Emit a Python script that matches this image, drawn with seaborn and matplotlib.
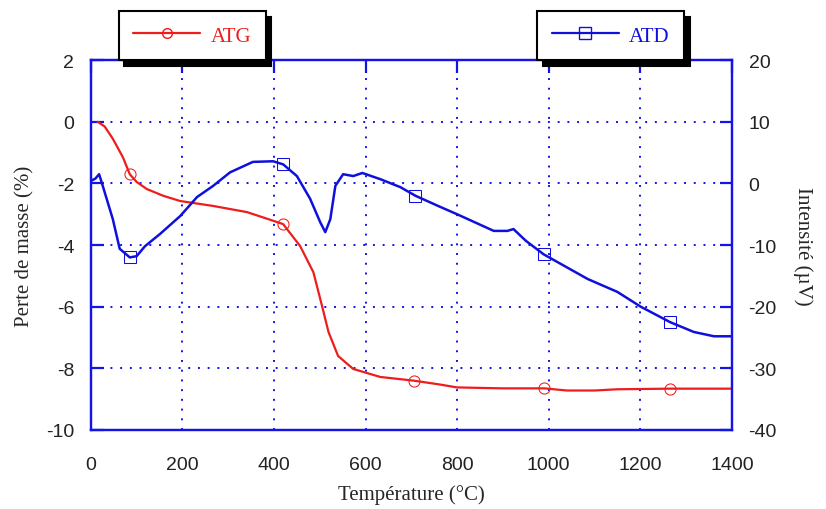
import seaborn as sns
import matplotlib.pyplot as plt
from matplotlib.lines import Line2D
import pandas as pd

# ATG curve (mass loss, left axis)
atg_T = [15, 30, 48, 70, 85, 100, 122, 158, 195, 267, 341, 392, 420, 457, 486, 505,
         519, 540, 573, 632, 705, 760, 800, 900, 990, 1040, 1100, 1150, 1265, 1400]
atg_v = [0.0, -0.15, -0.55, -1.15, -1.7, -1.95, -2.18, -2.4, -2.57, -2.73, -2.93, -3.18,
         -3.32, -4.03, -4.88, -5.98, -6.82, -7.6, -8.02, -8.28, -8.4, -8.52, -8.62, -8.65,
         -8.65, -8.72, -8.72, -8.68, -8.66, -8.66]
atg_marks = [85, 420, 705, 990, 1265]

# ATD curve (intensity, right axis)
atd_T = [0, 10, 18, 26, 48, 63, 85, 100, 118, 151, 195, 232, 267, 304, 354, 398, 420,
         450, 479, 501, 512, 523, 534, 551, 573, 593, 632, 676, 709, 763, 800, 880, 910,
         923, 950, 989, 1085, 1150, 1201, 1265, 1317, 1361, 1400]
atd_v = [0.4, 0.8, 1.5, -0.4, -5.8, -10.6, -12.0, -11.8, -10.2, -8.2, -5.3, -2.2, -0.4,
         1.8, 3.5, 3.6, 3.1, 1.2, -2.5, -6.3, -7.9, -5.8, -0.4, 1.5, 1.2, 1.7, 0.7, -0.6,
         -2.0, -3.8, -5.0, -7.7, -7.7, -7.4, -9.3, -11.5, -15.5, -17.6, -20.0, -22.5,
         -24.1, -24.8, -24.8]
atd_marks = [85, 420, 709, 989, 1265]

atg = pd.DataFrame({"T": atg_T, "v": atg_v})
atd = pd.DataFrame({"T": atd_T, "v": atd_v})

sns.set_style("white")
plt.rcParams["axes.unicode_minus"] = False
blue = "#1414e6"
red = "#ee1c1c"
dblue = "#1010dd"

fig = plt.figure(figsize=(8.26, 5.10), dpi=100)
ax = fig.add_axes([0.110, 0.155, 0.776, 0.725])
ax2 = ax.twinx()

sns.lineplot(data=atg, x="T", y="v", ax=ax, color=red, lw=1.6, marker="o",
             markersize=8, markerfacecolor="none", markeredgecolor=red,
             markevery=[atg_T.index(t) for t in atg_marks], legend=False)
sns.lineplot(data=atd, x="T", y="v", ax=ax2, color=dblue, lw=1.8, marker="s",
             markersize=9, markerfacecolor="none", markeredgecolor=dblue,
             markevery=[atd_T.index(t) for t in atd_marks], legend=False)

ax.set_xlim(0, 1400)
ax.set_ylim(-10, 2)
ax2.set_ylim(-40, 20)
ax.set_xticks(range(0, 1401, 200))
ax.set_yticks(range(-10, 3, 2))
ax2.set_yticks(range(-40, 21, 10))

ax.grid(True, color=blue, linestyle=(0, (1, 4)), lw=1.4)
ax.set_axisbelow(True)

tickfont = "Liberation Sans"
labfont = "Liberation Serif"
for a in (ax, ax2):
    for s in a.spines.values():
        s.set_color(blue)
        s.set_linewidth(1.6)
    a.tick_params(direction="in", length=9, width=1.6, color=blue, labelsize=14,
                  labelcolor="#222222", pad=12)
    for lab in a.get_xticklabels() + a.get_yticklabels():
        lab.set_fontfamily(tickfont)
ax.tick_params(top=True)
ax.tick_params(axis="x", pad=19)

ax.set_xlabel("Température (°C)", fontsize=15, family=labfont, labelpad=8)
ax.set_ylabel("Perte de masse (%)", fontsize=15, family=labfont, labelpad=8)
ax2.set_ylabel("Intensité (µV)", fontsize=15, family=labfont, rotation=-90, labelpad=26)

legends = []
for name, loc_x, col, mk, ms in (("ATG", 0.158, red, "o", 7), ("ATD", 0.811, dblue, "s", 8)):
    h = Line2D([], [], color=col, lw=1.6, marker=mk, markersize=ms,
               markerfacecolor="none", markeredgecolor=col)
    leg = ax2.legend([h], [name], loc="lower center", bbox_to_anchor=(loc_x, 1.0),
                     borderaxespad=0, frameon=True, fancybox=False, edgecolor="black",
                     shadow={"color": "black", "alpha": 1, "ox": 4, "oy": -4},
                     handlelength=3.2, borderpad=0.7, handletextpad=0.5,
                     prop={"family": labfont, "size": 15})
    leg.get_frame().set_linewidth(1.5)
    leg.get_texts()[0].set_color(col)
    leg.set_zorder(10)
    legends.append(leg)
ax2.add_artist(legends[0])

fig.savefig("out.png", dpi=100)
